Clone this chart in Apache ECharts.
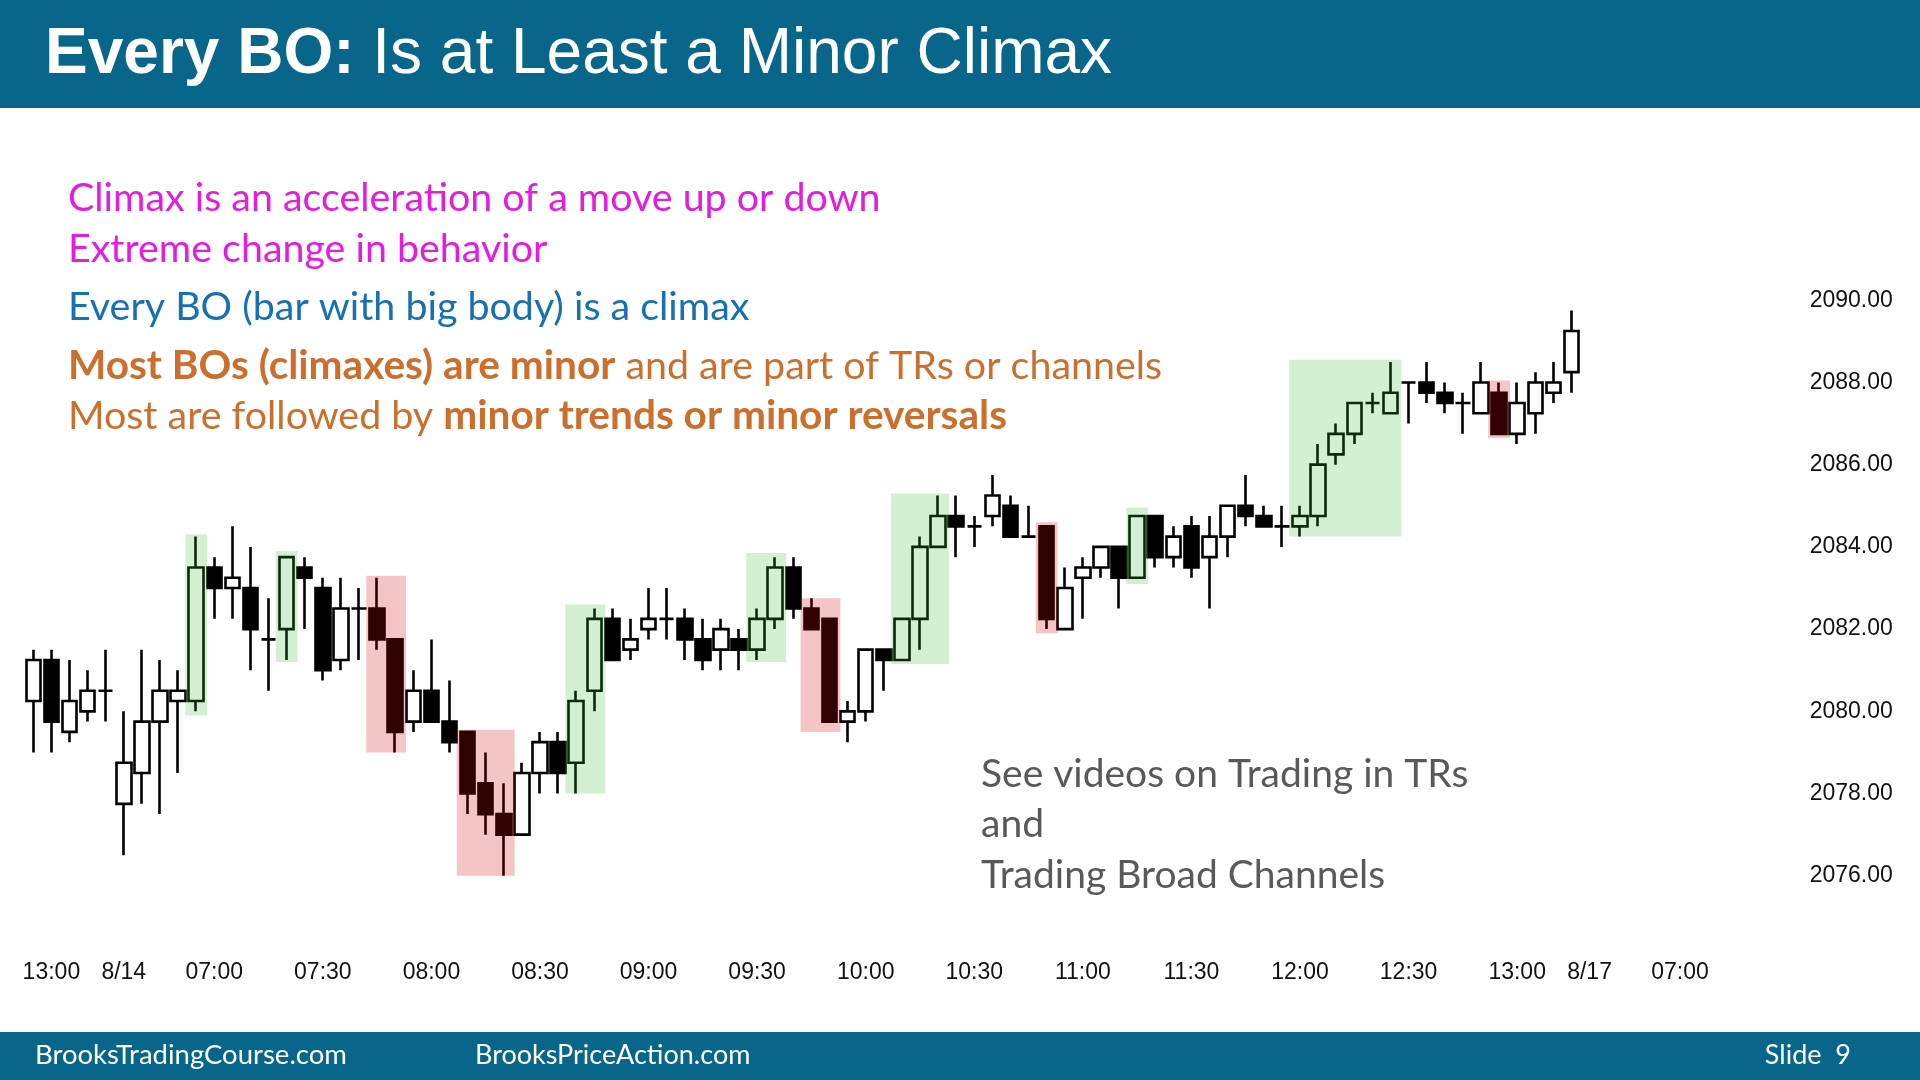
<!DOCTYPE html>
<html>
<head>
<meta charset="utf-8">
<script src="https://cdn.jsdelivr.net/npm/echarts@6/dist/echarts.min.js"></script>
<style>
html,body{margin:0;padding:0;background:#fff;}
#chart{width:1920px;height:1080px;}
</style>
</head>
<body>
<div id="chart"></div>
<script>
// ---- categories (5-minute bars) ----
const categories = [
 '8/13 12:55','8/13 13:00','8/13 13:05','8/13 13:10','8/13 13:15',
 '8/14 06:35','8/14 06:40','8/14 06:45','8/14 06:50','8/14 06:55',
 '8/14 07:00','8/14 07:05','8/14 07:10','8/14 07:15','8/14 07:20','8/14 07:25','8/14 07:30','8/14 07:35','8/14 07:40','8/14 07:45','8/14 07:50','8/14 07:55',
 '8/14 08:00','8/14 08:05','8/14 08:10','8/14 08:15','8/14 08:20','8/14 08:25','8/14 08:30','8/14 08:35','8/14 08:40','8/14 08:45','8/14 08:50','8/14 08:55',
 '8/14 09:00','8/14 09:05','8/14 09:10','8/14 09:15','8/14 09:20','8/14 09:25','8/14 09:30','8/14 09:35','8/14 09:40','8/14 09:45','8/14 09:50','8/14 09:55',
 '8/14 10:00','8/14 10:05','8/14 10:10','8/14 10:15','8/14 10:20','8/14 10:25','8/14 10:30','8/14 10:35','8/14 10:40','8/14 10:45','8/14 10:50','8/14 10:55',
 '8/14 11:00','8/14 11:05','8/14 11:10','8/14 11:15','8/14 11:20','8/14 11:25','8/14 11:30','8/14 11:35','8/14 11:40','8/14 11:45','8/14 11:50','8/14 11:55',
 '8/14 12:00','8/14 12:05','8/14 12:10','8/14 12:15','8/14 12:20','8/14 12:25','8/14 12:30','8/14 12:35','8/14 12:40','8/14 12:45','8/14 12:50','8/14 12:55',
 '8/14 13:00','8/14 13:05','8/14 13:10','8/14 13:15',
 '8/17 06:35','8/17 06:40','8/17 06:45','8/17 06:50','8/17 06:55',
 '8/17 07:00','8/17 07:05','8/17 07:10','8/17 07:15','8/17 07:20','8/17 07:25','8/17 07:30'
];

// ---- OHLC values ----
const openVals = [
 2080.25,2081.25,2079.5,2080.0,2080.5,
 2077.75,2078.5,2079.75,2080.25,2080.25,
 2083.5,2083.0,2083.0,2081.75,2082.0,2083.5,2083.0,2081.25,2082.5,2082.5,2081.75,2079.75,
 2080.5,2079.75,2079.5,2078.25,2077.5,2077.0,2078.5,2079.25,2078.75,2080.5,2082.25,2081.5,
 2082.0,2082.25,2082.25,2081.75,2081.5,2081.75,2081.5,2082.25,2083.5,2082.5,2082.25,2079.75,
 2080.0,2081.5,2081.25,2082.25,2084.0,2084.75,2084.5,2084.75,2085.0,2084.25,2084.5,2082.0,
 2083.25,2083.5,2084.0,2083.25,2084.75,2083.75,2084.5,2083.75,2084.25,2085.0,2084.75,2084.5,
 2084.5,2084.75,2086.25,2086.75,2087.5,2087.25,2088.0,2088.0,2087.75,2087.5,2087.25,2087.75,
 2086.75,2087.25,2087.75,2088.25
];
const closeVals = [
 2081.25,2079.75,2080.25,2080.5,2080.5,
 2078.75,2079.75,2080.5,2080.5,2083.5,
 2083.0,2083.25,2082.0,2081.75,2083.75,2083.25,2081.0,2082.5,2082.5,2081.75,2079.5,2080.5,
 2079.75,2079.25,2078.0,2077.5,2077.0,2078.5,2079.25,2078.5,2080.25,2082.25,2081.25,2081.75,
 2082.25,2082.25,2081.75,2081.25,2082.0,2081.5,2082.25,2083.5,2082.5,2082.0,2079.75,2080.0,
 2081.5,2081.25,2082.25,2084.0,2084.75,2084.5,2084.5,2085.25,2084.25,2084.25,2082.25,2083.0,
 2083.5,2084.0,2083.25,2084.75,2083.75,2084.25,2083.5,2084.25,2085.0,2084.75,2084.5,2084.5,
 2084.75,2086.0,2086.75,2087.5,2087.5,2087.75,2088.0,2087.75,2087.5,2087.5,2088.0,2086.75,
 2087.5,2088.0,2088.0,2089.25
];
const lowVals = [
 2079.0,2079.0,2079.25,2079.75,2079.75,
 2076.5,2077.75,2077.5,2078.5,2080.0,
 2082.25,2082.25,2081.0,2080.5,2081.25,2082.0,2080.75,2081.0,2081.25,2081.5,2079.0,2079.5,
 2079.75,2079.0,2077.5,2077.0,2076.0,2077.0,2078.0,2078.0,2078.0,2080.0,2081.25,2081.25,
 2081.75,2081.75,2081.25,2081.0,2081.0,2081.0,2081.25,2082.0,2082.25,2082.0,2079.75,2079.25,
 2079.75,2080.5,2081.25,2081.5,2084.0,2083.75,2084.0,2084.5,2084.25,2084.25,2082.0,2082.0,
 2082.25,2083.25,2082.5,2083.25,2083.5,2083.5,2083.25,2082.5,2083.75,2084.5,2084.5,2084.0,
 2084.25,2084.5,2086.0,2086.5,2087.25,2087.25,2087.0,2087.5,2087.25,2086.75,2087.25,2086.75,
 2086.5,2086.75,2087.5,2087.75
];
const highVals = [
 2081.5,2081.5,2081.25,2081.0,2081.5,
 2080.0,2081.5,2081.25,2081.0,2084.25,
 2083.75,2084.5,2084.0,2082.75,2083.75,2083.75,2083.25,2083.25,2083.0,2083.25,2081.75,2081.0,
 2081.75,2080.75,2079.5,2079.0,2078.25,2078.75,2079.5,2079.5,2080.5,2082.5,2082.5,2082.25,
 2083.0,2083.0,2082.5,2082.25,2082.25,2082.0,2082.5,2083.75,2083.75,2082.75,2082.25,2080.25,
 2081.5,2081.5,2082.25,2084.25,2085.25,2085.25,2084.75,2085.75,2085.25,2085.0,2084.5,2083.5,
 2083.75,2084.0,2084.0,2084.75,2084.75,2084.5,2084.75,2084.75,2085.0,2085.75,2085.0,2085.0,
 2085.0,2086.5,2087.0,2087.5,2087.75,2088.5,2088.0,2088.5,2088.0,2087.75,2088.5,2088.0,
 2088.0,2088.25,2088.5,2089.75
];

// ---- climax highlight boxes: first bar, last bar, low, high, kind (0 bull / 1 bear) ----
const hlStart = [9, 14, 30, 40, 48, 61, 70, 19, 24, 43, 56, 81];
const hlEnd   = [9, 14, 31, 41, 50, 61, 75, 20, 26, 44, 56, 81];
const hlLow   = [2079.9, 2081.2, 2078.0, 2081.2, 2081.15, 2083.1, 2084.25, 2079.0, 2076.0, 2079.5, 2081.9, 2086.65];
const hlHigh  = [2084.3, 2083.9, 2082.6, 2083.85, 2085.3, 2084.95, 2088.55, 2083.3, 2079.55, 2082.75, 2084.6, 2088.05];
const hlKind  = [0, 0, 0, 0, 0, 0, 0, 1, 1, 1, 1, 1];

// ---- axis tick labels ----
const tickIdx  = [1, 5, 10, 16, 22, 28, 34, 40, 46, 52, 58, 64, 70, 76, 82, 86, 91];
const tickText = ['13:00','8/14','07:00','07:30','08:00','08:30','09:00','09:30','10:00','10:30','11:00','11:30','12:00','12:30','13:00','8/17','07:00'];
const yMin = 2074, yMax = 2092, yStep = 2;

// ---- slide texts ----
const titleBold = 'Every BO:';
const titleRest = 'Is at Least a Minor Climax';
const footerLeft = 'BrooksTradingCourse.com';
const footerMid = 'BrooksPriceAction.com';
const footerRight = 'Slide  9';

const ohlc = openVals.map((o, i) => [o, closeVals[i], lowVals[i], highVals[i]]);
const highlights = hlStart.map((s, i) => [s, hlEnd[i], hlLow[i], hlHigh[i], hlKind[i]]);

const chart = echarts.init(document.getElementById('chart'), null, {renderer: 'canvas'});
const bodyFont = 'Lato, "Open Sans", sans-serif';
const BW = 39.4;   // regular body text
const BB = 40.6;   // bold body text
const SV = 39;     // note text

const option = {
  animation: false,
  backgroundColor: '#ffffff',
  grid: {left: 24.25, width: 1773.4, top: 218, height: 740},
  xAxis: {
    type: 'category', data: categories, boundaryGap: true,
    axisLine: {show: false}, axisTick: {show: false}, splitLine: {show: false},
    axisLabel: {
      interval: (i) => tickIdx.indexOf(i) >= 0,
      formatter: (v, i) => { const k = tickIdx.indexOf(i); return k >= 0 ? tickText[k] : ''; },
      fontFamily: '"Liberation Sans", Arial, sans-serif', fontSize: 23, color: '#111', margin: 3, hideOverlap: false
    }
  },
  yAxis: {
    type: 'value', position: 'right', min: yMin, max: yMax, interval: yStep,
    axisLine: {show: false}, axisTick: {show: false}, splitLine: {show: false},
    axisLabel: {
      formatter: (v) => v.toFixed(2), showMinLabel: false, showMaxLabel: false,
      fontFamily: '"Liberation Sans", Arial, sans-serif', fontSize: 23, color: '#111', margin: 12
    }
  },
  series: [
    {
      type: 'candlestick', data: ohlc, barWidth: 15, z: 2,
      itemStyle: {color: '#ffffff', color0: '#000000', borderColor: '#000000', borderColor0: '#000000', borderColorDoji: '#000000', borderWidth: 2.6}
    },
    {
      type: 'custom', data: highlights, z: 5, silent: true,
      encode: {x: [0, 1], y: [2, 3]},
      renderItem: (params, api) => {
        const p0 = api.coord([api.value(0), api.value(3)]);
        const p1 = api.coord([api.value(1), api.value(2)]);
        const band = api.size([1, 0])[0];
        const pad = band * 0.6;
        return {
          type: 'rect',
          shape: {x: p0[0] - pad, y: p0[1], width: p1[0] - p0[0] + 2 * pad, height: p1[1] - p0[1]},
          style: {fill: api.value(4) ? 'rgba(211,0,0,0.23)' : 'rgba(53,187,53,0.22)'}
        };
      }
    }
  ],
  graphic: [
    {type: 'rect', shape: {x: 0, y: 0, width: 1920, height: 108}, style: {fill: '#07668a'}, z: 0},
    {type: 'rect', shape: {x: 0, y: 1032, width: 1920, height: 48}, style: {fill: '#07668a'}, z: 0},
    {type: 'text', x: 45, y: 55, z: 10, style: {
      text: '{b|' + titleBold + '} {r|' + titleRest + '}', verticalAlign: 'middle',
      rich: {
        b: {fontFamily: '"Liberation Sans", Arial, sans-serif', fontWeight: 'bold', fontSize: 64, fill: '#ffffff'},
        r: {fontFamily: '"Liberation Sans", Arial, sans-serif', fontSize: 64, fill: '#ffffff'}
      }, fontFamily: '"Liberation Sans", Arial, sans-serif', fontSize: 64, fill: '#ffffff'}},
    {type: 'text', x: 68, y: 198, z: 10, style: {text: 'Climax is an acceleration of a move up or down', font: BW + 'px ' + bodyFont, fill: '#e31ce0', verticalAlign: 'middle'}},
    {type: 'text', x: 68, y: 249, z: 10, style: {text: 'Extreme change in behavior', font: BW + 'px ' + bodyFont, fill: '#e31ce0', verticalAlign: 'middle'}},
    {type: 'text', x: 68, y: 307, z: 10, style: {text: 'Every BO (bar with big body) is a climax', font: BW + 'px ' + bodyFont, fill: '#1670b2', verticalAlign: 'middle'}},
    {type: 'text', x: 68, y: 366, z: 10, style: {
      text: '{b|Most BOs (climaxes) are minor}{r| and are part of TRs or channels}', verticalAlign: 'middle',
      rich: {
        b: {fontFamily: bodyFont, fontWeight: 'bold', fontSize: BB, fill: '#cc6f2c'},
        r: {fontFamily: bodyFont, fontSize: BW, fill: '#cc6f2c'}
      }, fontSize: BW, fontFamily: bodyFont, fill: '#cc6f2c'}},
    {type: 'text', x: 68, y: 416, z: 10, style: {
      text: '{r|Most are followed by }{b|minor trends or minor reversals}', verticalAlign: 'middle',
      rich: {
        b: {fontFamily: bodyFont, fontWeight: 'bold', fontSize: BB, fill: '#cc6f2c'},
        r: {fontFamily: bodyFont, fontSize: BW, fill: '#cc6f2c'}
      }, fontSize: BW, fontFamily: bodyFont, fill: '#cc6f2c'}},
    {type: 'text', x: 981, y: 774, z: 10, style: {text: 'See videos on Trading in TRs', font: SV + 'px ' + bodyFont, fill: '#595959', verticalAlign: 'middle'}},
    {type: 'text', x: 981, y: 824, z: 10, style: {text: 'and', font: SV + 'px ' + bodyFont, fill: '#595959', verticalAlign: 'middle'}},
    {type: 'text', x: 981, y: 875, z: 10, style: {text: 'Trading Broad Channels', font: SV + 'px ' + bodyFont, fill: '#595959', verticalAlign: 'middle'}},
    {type: 'text', x: 35, y: 1055, z: 10, style: {text: footerLeft, font: '27.5px ' + bodyFont, fill: '#ffffff', verticalAlign: 'middle'}},
    {type: 'text', x: 475, y: 1055, z: 10, style: {text: footerMid, font: '27px ' + bodyFont, fill: '#ffffff', verticalAlign: 'middle'}},
    {type: 'text', x: 1851, y: 1055, z: 10, style: {text: footerRight, font: '27px ' + bodyFont, fill: '#ffffff', verticalAlign: 'middle', align: 'right'}}
  ]
};
chart.setOption(option);
</script>
</body>
</html>
